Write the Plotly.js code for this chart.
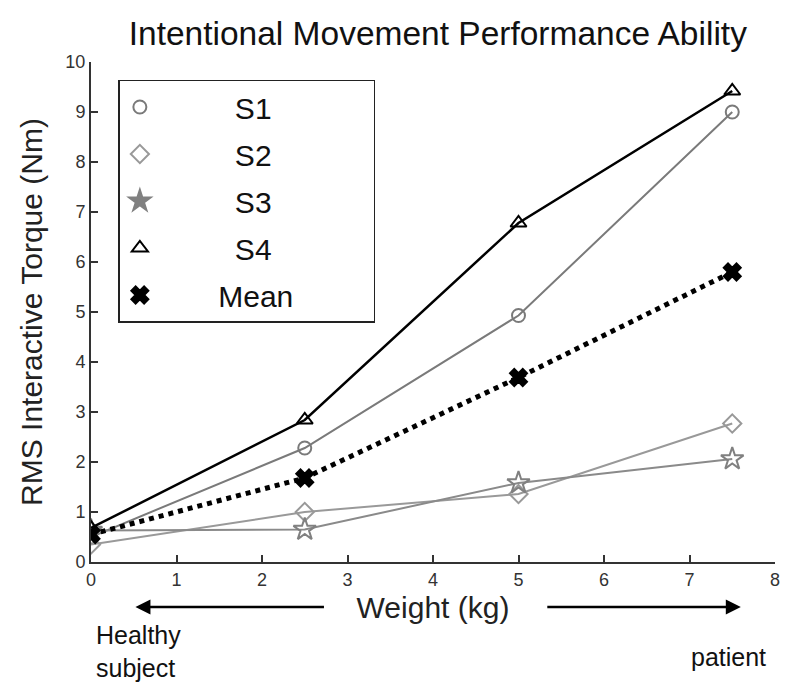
<!DOCTYPE html>
<html>
<head>
<meta charset="utf-8">
<script src="https://cdn.plot.ly/plotly-3.0.1.min.js"></script>
<style>
  html, body { margin: 0; padding: 0; background: #fff; }
  #chart { width: 786px; height: 683px; }
</style>
</head>
<body>
<div id="chart"></div>
<script>
// Added weight (kg) at each trial
const weights = [0, 2.5, 5, 7.5];

// RMS interactive torque (Nm) per subject
const s1 = [0.50, 2.28, 4.93, 9.00];
const s2 = [0.35, 1.00, 1.36, 2.77];
const s3 = [0.63, 0.65, 1.58, 2.06];
const s4 = [0.68, 2.84, 6.78, 9.42];
const mean = [0.55, 1.68, 3.69, 5.80];

const font = 'Liberation Sans, Arial, sans-serif';
const sp = n => '&nbsp;'.repeat(n);

// each series: one trace for the data (line + markers) and a marker-only legend entry
const styles = [
  { name: 'S1', y: s1, line: '#7a7a7a', width: 2, dash: 'solid', symbol: 'circle-open', mc: '#7a7a7a', size: 13, label: sp(9) + 'S1' },
  { name: 'S2', y: s2, line: '#999999', width: 2, dash: 'solid', symbol: 'diamond-open', mc: '#999999', size: 14, label: sp(9) + 'S2' },
  { name: 'S3', y: s3, line: '#8a8a8a', width: 2, dash: 'solid', symbol: 'star-open', mc: '#808080', size: 17, label: sp(9) + 'S3' },
  { name: 'S4', y: s4, line: '#000000', width: 2.5, dash: 'solid', symbol: 'triangle-up-open', mc: '#000000', size: 14, label: sp(9) + 'S4' },
  { name: 'Mean', y: mean, line: '#000000', width: 5, dash: 'dot', symbol: 'x', mc: '#000000', size: 15, label: sp(7) + 'Mean' + sp(9) }
];

const traces = [];
styles.forEach(s => {
  traces.push({
    x: weights, y: s.y, name: s.name, type: 'scatter', mode: 'lines+markers',
    showlegend: false,
    line: { color: s.line, width: s.width, dash: s.dash },
    marker: { symbol: s.symbol, size: s.size, color: s.mc, line: { color: s.mc, width: 2 } }
  });
});
styles.forEach((s, i) => {
  traces.push({
    x: [null], y: [null], name: s.label, type: 'scatter', mode: 'markers',
    legendgroup: 'g' + i,
    marker: {
      symbol: s.name === 'S3' ? 'star' : s.symbol, size: s.size,
      color: s.mc, line: { color: s.mc, width: 2 }
    }
  });
});

const layout = {
  width: 786, height: 683,
  margin: { l: 91, r: 11, t: 62, b: 121 },
  paper_bgcolor: '#ffffff', plot_bgcolor: '#ffffff',
  font: { family: font, color: '#000' },
  title: {
    text: 'Intentional Movement Performance Ability',
    font: { family: font, size: 33.5, color: '#111' },
    x: 0.557, xanchor: 'center', y: 0.952, yanchor: 'middle'
  },
  showlegend: true,
  legend: {
    x: 0.04, y: 0.965, xanchor: 'left', yanchor: 'top',
    bordercolor: '#222', borderwidth: 1.5, bgcolor: '#fff',
    font: { family: font, size: 30, color: '#111' },
    itemwidth: 30, tracegroupgap: 5
  },
  xaxis: {
    range: [0, 8], dtick: 1, tickmode: 'linear',
    showgrid: false, zeroline: false,
    showline: true, linecolor: '#333', linewidth: 2,
    ticks: 'inside', ticklen: 7, tickwidth: 2, tickcolor: '#333',
    tickfont: { family: font, size: 18, color: '#333' },
    title: { text: 'Weight (kg)', font: { family: font, size: 30, color: '#222' }, standoff: 8 }
  },
  yaxis: {
    range: [0, 10], dtick: 1, tickmode: 'linear',
    showgrid: false, zeroline: false,
    showline: true, linecolor: '#333', linewidth: 2,
    ticks: 'inside', ticklen: 7, tickwidth: 2, tickcolor: '#333',
    tickfont: { family: font, size: 18, color: '#333' },
    title: { text: 'RMS Interactive Torque (Nm)', font: { family: font, size: 30, color: '#222' }, standoff: 14 }
  },
  annotations: [
    { xref: 'paper', yref: 'paper', x: 0.065, y: -0.09, ax: 190, ay: 0,
      text: '', showarrow: true, arrowhead: 2, arrowsize: 1.2, arrowwidth: 2.5, arrowcolor: '#000' },
    { xref: 'paper', yref: 'paper', x: 0.95, y: -0.09, ax: -195, ay: 0,
      text: '', showarrow: true, arrowhead: 2, arrowsize: 1.2, arrowwidth: 2.5, arrowcolor: '#000' },
    { xref: 'paper', yref: 'paper', x: 0.004, y: -0.178, xanchor: 'left', yanchor: 'middle',
      text: 'Healthy<br>subject', align: 'left', showarrow: false,
      font: { family: font, size: 25, color: '#111' } },
    { xref: 'paper', yref: 'paper', x: 0.99, y: -0.19, xanchor: 'right', yanchor: 'middle',
      text: 'patient', showarrow: false,
      font: { family: font, size: 25, color: '#111' } }
  ]
};

Plotly.newPlot('chart', traces, layout, { displayModeBar: false, staticPlot: true });
</script>
</body>
</html>
